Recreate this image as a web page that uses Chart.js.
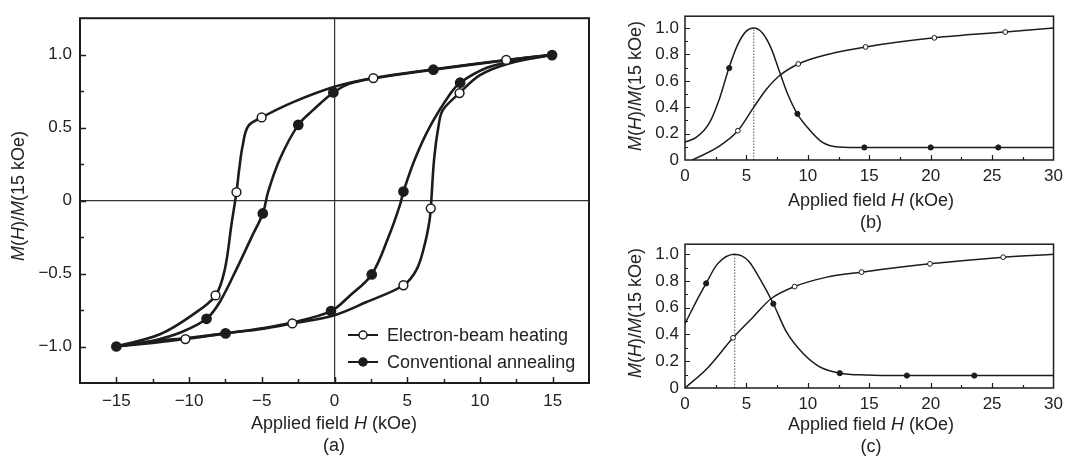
<!DOCTYPE html>
<html>
<head>
<meta charset="utf-8">
<script src="https://cdn.jsdelivr.net/npm/chart.js@4.4.1/dist/chart.umd.min.js"></script>
<style>
  body { margin: 0; background: #fff; }
  #wrap { position: relative; width: 1069px; height: 456px; overflow: hidden;
          font-family: "Liberation Sans", Arial, sans-serif; color: #222; }
  #wrap canvas { position: absolute; }
  .t { position: absolute; white-space: nowrap; font-size: 18px; line-height: 1;
       transform: translate(-50%, -50%); }
  .rot { transform: translate(-50%, -50%) rotate(-90deg); }
</style>
</head>
<body>
<div id="wrap">
  <canvas id="chartA" width="620" height="456" style="left:0;top:0"></canvas>
  <canvas id="chartB" width="449" height="228" style="left:620px;top:0"></canvas>
  <canvas id="chartC" width="449" height="228" style="left:620px;top:228px"></canvas>

  <div class="t rot" style="left:18px;top:196px"><i>M</i>(<i>H</i>)/<i>M</i>(15 kOe)</div>
  <div class="t" style="left:334px;top:423px">Applied field <i>H</i> (kOe)</div>
  <div class="t" style="left:334px;top:445px">(a)</div>

  <div class="t rot" style="left:635px;top:86px"><i>M</i>(<i>H</i>)/<i>M</i>(15 kOe)</div>
  <div class="t" style="left:871px;top:200px">Applied field <i>H</i> (kOe)</div>
  <div class="t" style="left:871px;top:222px">(b)</div>

  <div class="t rot" style="left:635px;top:313px"><i>M</i>(<i>H</i>)/<i>M</i>(15 kOe)</div>
  <div class="t" style="left:871px;top:424px">Applied field <i>H</i> (kOe)</div>
  <div class="t" style="left:871px;top:446px">(c)</div>
</div>

<script>
// ---- panel (a): hysteresis loops, H in kOe, M normalised ----
const legendNames = ["Electron-beam heating", "Conventional annealing"];

// electron-beam heating, descending branch (15 -> -15)
const ebDownH = [15, 11.8, 6.8, 2.67, 0, -2.84, -5.01, -5.94, -6.32, -6.55, -6.74, -7.08, -7.54, -8.18, -9.72, -12, -15];
const ebDownM = [1, 0.964, 0.9, 0.84, 0.78, 0.675, 0.57, 0.51, 0.374, 0.218, 0.058, -0.16, -0.47, -0.65, -0.78, -0.916, -1];
// electron-beam heating, ascending branch (-15 -> 15)
const ebUpH = [-15, -12.5, -10.25, -7.5, -5, -2.9, 0, 2.2, 4.74, 5.66, 6.23, 6.53, 6.62, 6.85, 7.15, 7.45, 8.6, 10, 12, 15];
const ebUpM = [-1, -0.975, -0.949, -0.91, -0.88, -0.842, -0.785, -0.695, -0.58, -0.47, -0.29, -0.14, -0.053, 0.285, 0.51, 0.62, 0.737, 0.86, 0.94, 1];
const ebMarkH = [11.81, 8.6, 6.62, 4.74, 2.67, -2.9, -5.01, -6.74, -8.18, -10.25];
const ebMarkM = [0.964, 0.737, -0.053, -0.58, 0.84, -0.842, 0.57, 0.058, -0.65, -0.949];

// conventional annealing, descending branch
const caDownH = [15, 11.8, 6.8, 2.67, 1, -0.08, -1.48, -2.49, -3.75, -4.56, -4.93, -5.7, -6.74, -7.89, -8.8, -10.5, -12.5, -15];
const caDownM = [1, 0.962, 0.897, 0.838, 0.8, 0.741, 0.62, 0.519, 0.287, 0.062, -0.088, -0.25, -0.47, -0.695, -0.81, -0.9, -0.96, -1];
// conventional annealing, ascending branch
const caUpH = [-15, -12.5, -10, -7.49, -5, -2.9, -0.24, 1.07, 2.56, 3.71, 4.51, 4.74, 5.54, 6.58, 7.95, 8.64, 10.48, 12.5, 15];
const caUpM = [-1, -0.965, -0.94, -0.91, -0.875, -0.835, -0.757, -0.65, -0.506, -0.25, -0.027, 0.062, 0.287, 0.51, 0.73, 0.808, 0.91, 0.96, 1];
const caMarkH = [14.96, 8.64, 6.8, 4.74, 2.56, -0.08, -0.24, -2.49, -4.93, -7.49, -8.8, -15];
const caMarkM = [0.997, 0.808, 0.897, 0.062, -0.506, 0.741, -0.757, 0.519, -0.088, -0.91, -0.81, -1];

// ---- panel (b) ----
const peakBH = [0, 0.94, 2.0, 2.82, 3.57, 4.3, 4.97, 5.6, 6.3, 6.99, 7.66, 8.33, 9.14, 10.08, 11.16, 12.5, 14.6, 20, 25.5, 30];
const peakBM = [0.136, 0.173, 0.284, 0.469, 0.696, 0.876, 0.975, 1.0, 0.963, 0.852, 0.679, 0.506, 0.35, 0.235, 0.136, 0.099, 0.095, 0.095, 0.095, 0.095];
const peakBMarkH = [3.6, 9.15, 14.6, 20, 25.5];
const peakBMarkM = [0.697, 0.35, 0.095, 0.095, 0.095];
const riseBH = [0.6, 2.69, 4.3, 5.56, 6.58, 7.66, 9.22, 11.7, 14.7, 20.3, 26.07, 30];
const riseBM = [0, 0.099, 0.222, 0.395, 0.531, 0.637, 0.728, 0.802, 0.857, 0.926, 0.97, 1.0];
const riseBMarkH = [4.3, 9.22, 14.7, 20.3, 26.07];
const riseBMarkM = [0.222, 0.728, 0.857, 0.926, 0.97];
const peakBAt = 5.6;

// ---- panel (c) ----
const peakCH = [0, 1.1, 1.72, 2.63, 4.02, 5.17, 6.1, 7.19, 8.26, 9.6, 10.93, 12.6, 14.7, 18.06, 23.55, 30];
const peakCM = [0.481, 0.679, 0.782, 0.926, 1.0, 0.95, 0.815, 0.63, 0.419, 0.259, 0.16, 0.111, 0.097, 0.093, 0.093, 0.093];
const peakCMarkH = [1.72, 7.19, 12.6, 18.06, 23.55];
const peakCMarkM = [0.782, 0.63, 0.111, 0.093, 0.093];
const riseCH = [0, 1.82, 3.91, 5.57, 7.0, 8.92, 11.47, 14.37, 19.94, 25.9, 30];
const riseCM = [0, 0.148, 0.375, 0.533, 0.667, 0.758, 0.827, 0.866, 0.928, 0.978, 1.0];
const riseCMarkH = [3.91, 8.92, 14.37, 19.94, 25.9];
const riseCMarkM = [0.375, 0.758, 0.866, 0.928, 0.978];
const peakCAt = 4.05;

const INK = "#1c1c1c";
const FONT = "'Liberation Sans', Arial, sans-serif";

const toXY = (xs, ys) => xs.map((x, i) => ({ x, y: ys[i] }));
const minus = (v) => (v < 0 ? "\u2212" : "") + Math.abs(v);

// box round the plot plus short inward ticks at every tick of the scales
const frameTicks = {
    id: "frameTicks",
    afterDatasetsDraw(chart, args, opts) {
        const { ctx, chartArea: a, scales } = chart;
        ctx.save();
        ctx.strokeStyle = INK;
        ctx.lineWidth = opts.width;
        ctx.strokeRect(a.left, a.top, a.right - a.left, a.bottom - a.top);
        ctx.lineWidth = opts.tickWidth;
        ctx.beginPath();
        for (const t of scales.x.ticks) {
            if (t.value <= scales.x.min || t.value >= scales.x.max) continue;
            const px = Math.round(scales.x.getPixelForValue(t.value)) + 0.5;
            const len = t.label ? opts.major : opts.minor;
            ctx.moveTo(px, a.bottom);
            ctx.lineTo(px, a.bottom - len);
        }
        for (const t of scales.y.ticks) {
            if (t.value <= scales.y.min || t.value >= scales.y.max) continue;
            const py = Math.round(scales.y.getPixelForValue(t.value)) + 0.5;
            const len = t.label ? opts.major : opts.minor;
            ctx.moveTo(a.left, py);
            ctx.lineTo(a.left + len, py);
        }
        ctx.stroke();
        ctx.restore();
    },
};

// legend of panel (a): line with a marker, drawn in the lower right corner
const legendA = {
    id: "legendA",
    afterDraw(chart) {
        const { ctx, chartArea: a } = chart;
        ctx.save();
        ctx.font = "18px " + FONT;
        ctx.textBaseline = "middle";
        ctx.fillStyle = "#222";
        legendNames.forEach((name, i) => {
            const y = a.bottom - 48 + i * 27;
            const x0 = a.right - 241;
            ctx.strokeStyle = INK;
            ctx.lineWidth = 2;
            ctx.beginPath();
            ctx.moveTo(x0, y);
            ctx.lineTo(x0 + 30, y);
            ctx.stroke();
            ctx.beginPath();
            ctx.arc(x0 + 15, y, 4, 0, Math.PI * 2);
            ctx.fillStyle = i === 0 ? "#fff" : INK;
            ctx.fill();
            ctx.lineWidth = 1.5;
            ctx.stroke();
            ctx.fillStyle = "#222";
            ctx.fillText(name, a.right - 202, y + 1);
        });
        ctx.restore();
    },
};

function curve(data, width, mode) {
    return {
        data, showLine: true, borderColor: INK, borderWidth: width,
        pointRadius: 0, tension: 0.35, cubicInterpolationMode: mode || "default",
        order: 2,
    };
}

function markers(data, radius, open, bw) {
    return {
        data, showLine: false, pointRadius: radius, pointBorderWidth: bw,
        pointBorderColor: INK, pointBackgroundColor: open ? "#fff" : INK,
        order: 0,
    };
}

function baseOptions(cfg) {
    return {
        responsive: false,
        animation: false,
        devicePixelRatio: 1,
        events: [],
        layout: { padding: cfg.padding },
        plugins: {
            legend: { display: false },
            tooltip: { enabled: false },
            frameTicks: cfg.frame,
        },
        scales: {
            x: {
                type: "linear", min: cfg.xMin, max: cfg.xMax,
                border: { display: false },
                grid: cfg.xGrid,
                ticks: {
                    stepSize: cfg.xStep, autoSkip: false, maxRotation: 0, minRotation: 0,
                    includeBounds: false, padding: cfg.xPad, color: "#222",
                    font: { family: FONT, size: cfg.tickSize },
                    callback: cfg.xLabel,
                },
                afterFit: (s) => { s.height = cfg.xHeight; },
            },
            y: {
                type: "linear", min: cfg.yMin, max: cfg.yMax,
                border: { display: false },
                grid: cfg.yGrid,
                ticks: {
                    stepSize: cfg.yStep, autoSkip: false, includeBounds: false,
                    padding: cfg.yPad, color: "#222",
                    font: { family: FONT, size: cfg.tickSize },
                    callback: cfg.yLabel,
                },
                afterFit: (s) => { s.width = cfg.yWidth; },
            },
        },
    };
}

// zero lines only, for panel (a)
const zeroGrid = {
    drawTicks: false,
    lineWidth: 1.2,
    color: (c) => (c.tick && c.tick.value === 0 ? "#333" : "rgba(0,0,0,0)"),
};
const noGrid = { display: false, drawTicks: false };

// ---- chart (a) ----
new Chart(document.getElementById("chartA"), {
    type: "scatter",
    data: {
        datasets: [
            curve(toXY(ebDownH, ebDownM), 2.6),
            curve(toXY(ebUpH, ebUpM), 2.6),
            curve(toXY(caDownH, caDownM), 2.6),
            curve(toXY(caUpH, caUpM), 2.6),
            markers(toXY(ebMarkH, ebMarkM), 4.4, true, 1.5),
            markers(toXY(caMarkH, caMarkM), 4.6, false, 1.5),
        ],
    },
    options: baseOptions({
        padding: { left: 0, right: 31, top: 9, bottom: 0 },
        xMin: -17.5, xMax: 17.5, xStep: 2.5, xPad: 8, xHeight: 73,
        yMin: -1.25, yMax: 1.25, yStep: 0.25, yPad: 8, yWidth: 80,
        tickSize: 17,
        xGrid: zeroGrid, yGrid: zeroGrid,
        frame: { width: 2, tickWidth: 1.5, major: 6, minor: 4 },
        xLabel: (v) => {
            const r = Math.round(v);
            return Math.abs(v - r) < 1e-6 && r % 5 === 0 ? minus(r) : "";
        },
        yLabel: (v) => {
            const r = Math.round(v * 4);
            if (r % 2 !== 0) return "";
            return r === 0 ? "0" : (r < 0 ? "\u2212" : "") + Math.abs(r / 4).toFixed(1);
        },
    }),
    plugins: [frameTicks, legendA],
});

// ---- charts (b) and (c) ----
function smallPanel(id, peak, rise, peakMarks, riseMarks, peakAt, yMax) {
    new Chart(document.getElementById(id), {
        type: "scatter",
        data: {
            datasets: [
                {
                    data: [{ x: peakAt, y: 0 }, { x: peakAt, y: 1 }],
                    showLine: true, borderColor: "#555", borderWidth: 1,
                    borderDash: [1.5, 1.5], pointRadius: 0, order: 3,
                },
                curve(peak, 1.5, "monotone"),
                curve(rise, 1.5, "monotone"),
                markers(peakMarks, 2.6, false, 1),
                markers(riseMarks, 2.4, true, 1),
            ],
        },
        options: baseOptions({
            padding: { left: 0, right: 12, top: 12, bottom: 0 },
            xMin: 0, xMax: 30, xStep: 2.5, xPad: 6, xHeight: 68,
            yMin: 0, yMax: yMax, yStep: 0.1, yPad: 6, yWidth: 65,
            tickSize: 17,
            xGrid: noGrid, yGrid: noGrid,
            frame: { width: 1.5, tickWidth: 1.2, major: 5, minor: 3 },
            xLabel: (v) => {
                const r = Math.round(v);
                return Math.abs(v - r) < 1e-6 && r % 5 === 0 ? String(r) : "";
            },
            yLabel: (v) => {
                const r = Math.round(v * 10);
                if (r % 2 !== 0) return "";
                return r === 0 ? "0" : (r / 10).toFixed(1);
            },
        }),
        plugins: [frameTicks],
    });
}

smallPanel("chartB", toXY(peakBH, peakBM), toXY(riseBH, riseBM),
    toXY(peakBMarkH, peakBMarkM), toXY(riseBMarkH, riseBMarkM), peakBAt, 1.09);
smallPanel("chartC", toXY(peakCH, peakCM), toXY(riseCH, riseCM),
    toXY(peakCMarkH, peakCMarkM), toXY(riseCMarkH, riseCMarkM), peakCAt, 1.075);
</script>
</body>
</html>
